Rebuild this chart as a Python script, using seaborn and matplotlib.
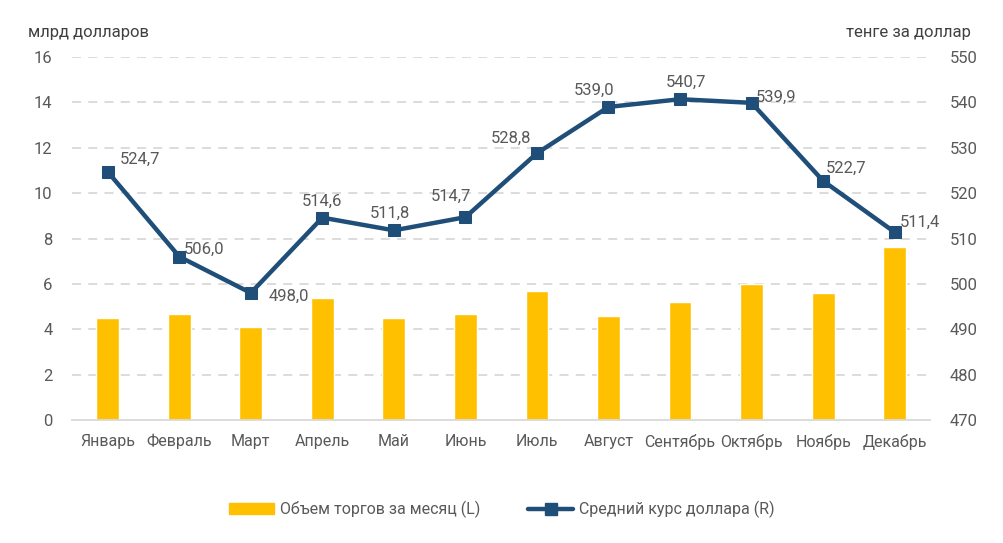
import matplotlib
matplotlib.use("Agg")
import matplotlib.pyplot as plt
from matplotlib.lines import Line2D
from matplotlib.patches import Patch
import seaborn as sns
import numpy as np
import pandas as pd

months = ['Январь', 'Февраль', 'Март', 'Апрель', 'Май', 'Июнь',
          'Июль', 'Август', 'Сентябрь', 'Октябрь', 'Ноябрь', 'Декабрь']
volume = [4.5, 4.67, 4.1, 5.38, 4.5, 4.67, 5.7, 4.58, 5.2, 6.0, 5.6, 7.62]
rate = [524.7, 506.0, 498.0, 514.6, 511.8, 514.7, 528.8, 539.0, 540.7, 539.9, 522.7, 511.4]

left_ticks = list(range(0, 17, 2))
right_ticks = list(range(470, 551, 10))

# где стоят подписи относительно маркера (пиксели), как в исходнике
label_pos = [(12, 12, 'left'), (5, 7, 'left'), (18, -3, 'left'),
             (0, 16, 'center'), (-4, 17, 'center'), (-14, 21, 'center'),
             (-26, 15, 'center'), (-14, 17, 'center'), (6, 17, 'center'),
             (4, 6, 'left'), (3, 13, 'left'), (5, 10, 'left')]

BAR_C = '#FFC000'
LINE_C = '#1F4E79'
TXT_C = '#595959'
GRID_C = '#D9D9D9'
FS = 11.5

sns.set_style("white")
plt.rcParams['font.family'] = ['Roboto', 'DejaVu Sans']
plt.rcParams['font.size'] = FS

df = pd.DataFrame({'month': months, 'volume': volume, 'rate': rate})

fig = plt.figure(figsize=(10.04, 5.43), dpi=100)
ax = fig.add_axes([0.0717, 0.2265, 0.855, 0.6685])

sns.barplot(data=df, x='month', y='volume', color=BAR_C, width=0.32,
            saturation=1, ax=ax, zorder=2)
ax.set_ylim(0, 16)
ax.set_yticks(left_ticks)
ax.set_xlim(-0.5, len(months) - 0.5)
for t in left_ticks[1:]:
    ax.axhline(t, color=GRID_C, lw=1.3, ls=(0, (5, 4)), zorder=0)
ax.set_xlabel('')
ax.set_ylabel('')
for s in ['top', 'left', 'right']:
    ax.spines[s].set_visible(False)
ax.spines['bottom'].set_color(GRID_C)
ax.spines['bottom'].set_linewidth(1.3)
ax.tick_params(axis='y', length=0, colors=TXT_C, labelsize=FS + 0.5, pad=14)
ax.tick_params(axis='x', length=0, colors=TXT_C, labelsize=FS, pad=10)
# засечки между категориями
ax.set_xticks(np.arange(-0.5, len(months)), minor=True)
ax.tick_params(axis='x', which='minor', length=6, color=GRID_C, width=1.3)

ax2 = ax.twinx()
sns.lineplot(x=np.arange(len(months)), y=rate, ax=ax2, color=LINE_C, lw=3.2,
             marker='s', markersize=9, markeredgecolor=LINE_C, zorder=3)
ax2.set_ylim(470, 550)
ax2.set_yticks(right_ticks)
ax2.set_ylabel('')
for s in ['top', 'left', 'right', 'bottom']:
    ax2.spines[s].set_visible(False)
ax2.tick_params(axis='y', length=0, colors=TXT_C, labelsize=FS + 0.5, pad=14)

for i, v in enumerate(rate):
    dx, dy, ha = label_pos[i]
    ax2.annotate(f"{v:.1f}".replace('.', ','), (i, v), xytext=(dx, dy),
                 textcoords='offset pixels', color=TXT_C, fontsize=FS + 0.5,
                 ha=ha, va='center')

fig.text(0.028, 0.94, 'млрд долларов', color='#404040', fontsize=FS + 0.5, va='center')
fig.text(0.967, 0.94, 'тенге за доллар', color='#404040', fontsize=FS + 0.5,
         va='center', ha='right')

handles = [Patch(color=BAR_C),
           Line2D([0], [0], color=LINE_C, lw=3.2, marker='s', markersize=9)]
fig.legend(handles, ['Объем торгов за месяц (L)', 'Средний курс доллара (R)'],
           loc='center', bbox_to_anchor=(0.5, 0.062), ncol=2, frameon=False,
           fontsize=FS, labelcolor=TXT_C, handlelength=2.8, columnspacing=3,
           handletextpad=0.4)

fig.savefig('out.png', dpi=100)
